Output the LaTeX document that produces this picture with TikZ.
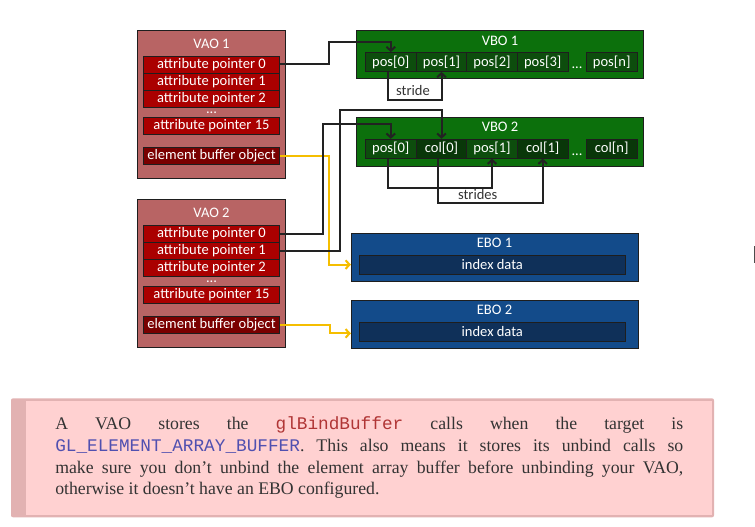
\documentclass[tikz,border=0pt]{standalone}
\usepackage{fontspec}
\setmainfont{Liberation Serif}
\setmonofont{Liberation Mono}
\newfontfamily\diagfont{Carlito}
\usepackage{xcolor}
\definecolor{vaoColor}{HTML}{B86464}
\definecolor{attrColor}{HTML}{AA0000}
\definecolor{eboRowColor}{HTML}{7A0000}
\definecolor{vboColor}{HTML}{0C700C}
\definecolor{posColor}{HTML}{0D4D0D}
\definecolor{colColor}{HTML}{093709}
\definecolor{eboColor}{HTML}{134B8A}
\definecolor{indexColor}{HTML}{0F3059}
\definecolor{edgeColor}{HTML}{1E1E1E}
\definecolor{wireColor}{HTML}{222222}
\definecolor{yellowWire}{HTML}{F5BE00}
\definecolor{noteFill}{HTML}{FFD1D1}
\definecolor{noteEdge}{HTML}{E2B2B2}
\definecolor{noteText}{HTML}{333333}
\definecolor{funcColor}{HTML}{B03535}
\definecolor{enumColor}{HTML}{5050B0}
\usepackage{tikz}
\usetikzlibrary{positioning, arrows.meta, calc}
\newcommand\dfont{\diagfont\fontsize{10.9}{12}\selectfont}
\newcommand\glfunc[1]{\textcolor{funcColor}{\texttt{#1}}}
\newcommand\glenum[1]{\textcolor{enumColor}{\texttt{#1}}}

\begin{document}
\begin{tikzpicture}[x=0.75pt, y=-0.75pt,
  vaobox/.style={draw=edgeColor, fill=vaoColor, minimum width=111.3pt, minimum height=110.7pt, inner sep=0pt},
  attrrow/.style={draw=edgeColor, fill=attrColor, text=white, font=\dfont, minimum width=102.3pt, minimum height=12.9pt, inner sep=0pt},
  eborow/.style={attrrow, fill=eboRowColor},
  vbobox/.style={draw=edgeColor, fill=vboColor, minimum width=215pt, minimum height=36.2pt, inner sep=0pt},
  poscell/.style={draw=edgeColor, fill=posColor, text=white, font=\dfont, minimum width=38pt, minimum height=14.4pt, inner sep=0pt},
  colcell/.style={poscell, fill=colColor},
  ebobox/.style={draw=edgeColor, fill=eboColor, minimum width=215pt, minimum height=35.8pt, inner sep=0pt},
  indexrow/.style={draw=edgeColor, fill=indexColor, text=white, font=\dfont, minimum width=199.3pt, minimum height=14.25pt, inner sep=0pt},
  boxtitle/.style={text=white, font=\dfont, inner sep=0pt},
  dots/.style={boxtitle, anchor=base, text height=1.5pt, text depth=0pt},
  gaplabel/.style={text=noteText, font=\dfont, inner sep=0pt},
  wire/.style={draw=wireColor, line width=1.5pt, -{Straight Barb[length=3pt,width=6.5pt]}},
  ebowire/.style={wire, draw=yellowWire},
  notetext/.style={text=noteText, text width=471pt, align=justify, inner sep=0pt, font=\fontsize{13.3}{16.3}\selectfont}]
  \useasboundingbox (0,0) rectangle (755,527);

  \foreach \v/\dy in {1/0,2/169} {
    \node[vaobox] (vao\v) at (211.5,104.5+\dy) {};
    \node[boxtitle] (vaotitle\v) at (211.5,44+\dy) {VAO \v};
    \foreach \i/\y in {0/64.5,1/81.5,2/98.5,15/126}
      \node[attrrow] (a\v-\i) at (211.5,\y+\dy) {attribute pointer \i};
    \node[dots] (vaodots\v) at (211.5,113.8+\dy) {...};
    \node[eborow] (e\v) at (211.5,155.7+\dy) {element buffer object};
  }

  \node[vbobox] (vbo1) at (500,54.2) {};
  \node[boxtitle] (vbotitle1) at (500,40.7) {VBO 1};
  \foreach \i/\x/\t in {0/390.8/pos[0],1/441.5/pos[1],2/492/pos[2],3/542.7/pos[3],n/611.7/pos[n]}
    \node[poscell] (p\i) at (\x,62) {\t};
  \node[dots] (vbodots1) at (577,68.5) {...};

  \node[vbobox] (vbo2) at (500,141.7) {};
  \node[boxtitle] (vbotitle2) at (500,127.3) {VBO 2};
  \foreach \i/\x/\t/\s in {0/390.8/pos[0]/poscell,1/441.5/col[0]/colcell,2/492/pos[1]/poscell,3/542.7/col[1]/colcell,n/611.7/col[n]/colcell}
    \node[\s] (q\i) at (\x,148.7) {\t};
  \node[dots] (vbodots2) at (577,155.5) {...};

  \foreach \v/\y in {1/257.2,2/324.5} {
    \node[ebobox] (eb\v) at (494.5,\y) {};
    \node[boxtitle] (ebotitle\v) at (494.5,\y-14.5) {EBO \v};
    \node[indexrow] (eb\v i) at (492.3,\y+7.4) {index data};
  }

  \draw[ebowire] (e1.east) -- ++(49.3,0) |- (eb1.west |- eb1i.center);
  \draw[ebowire] (e2.east) -- ++(50.3,0) |- ($(eb2.west |- eb2i.center)+(0,1.5)$);

  \draw[wire] (a1-0.east) -- ++(48.6,0) |- ($(p0.north)+(0,-10.6)$) -- (p0.north);
  \draw[wire] ([xshift=-2pt]p0.south) -- ++(0,28.3) -| (p1.south);
  \node[gaplabel] (stride) at (413,90.5) {stride};

  \draw[wire] (a2-0.east) -- ++(42.6,0) |- ($(q0.north)+(0,-15.3)$) -- (q0.north);
  \draw[wire] (a2-1.east) -- ++(59.6,0) |- ($(q1.north)+(0,-29.3)$) -- (q1.north);
  \draw[wire] ([xshift=-2pt]q0.south) -- ++(0,29.3) -| (q2.south);
  \draw[wire] ([xshift=-2.4pt]q1.south) -- ++(0,44.7) -| (q3.south);
  \node[gaplabel] (strides) at (477.7,195) {strides};

  \fill[noteEdge, rounded corners=1.5pt] (11,398.3) rectangle (714,517.3);
  \fill[noteFill] (26,400.5) rectangle (712,515.2);
  \node[notetext, anchor=north west] (note) at (55,416.5) {A VAO stores the \glfunc{glBindBuffer} calls when the target is\linebreak
    \glenum{GL\_ELEMENT\_ARRAY\_BUFFER}. This also means it stores its unbind calls so\linebreak
    make sure you don’t unbind the element array buffer before unbinding your VAO,\linebreak
    otherwise it doesn’t have an EBO configured.};

  \draw[gray!60!black, line width=0.9pt] (754.3,246) -- (754.3,263);
\end{tikzpicture}
\end{document}
